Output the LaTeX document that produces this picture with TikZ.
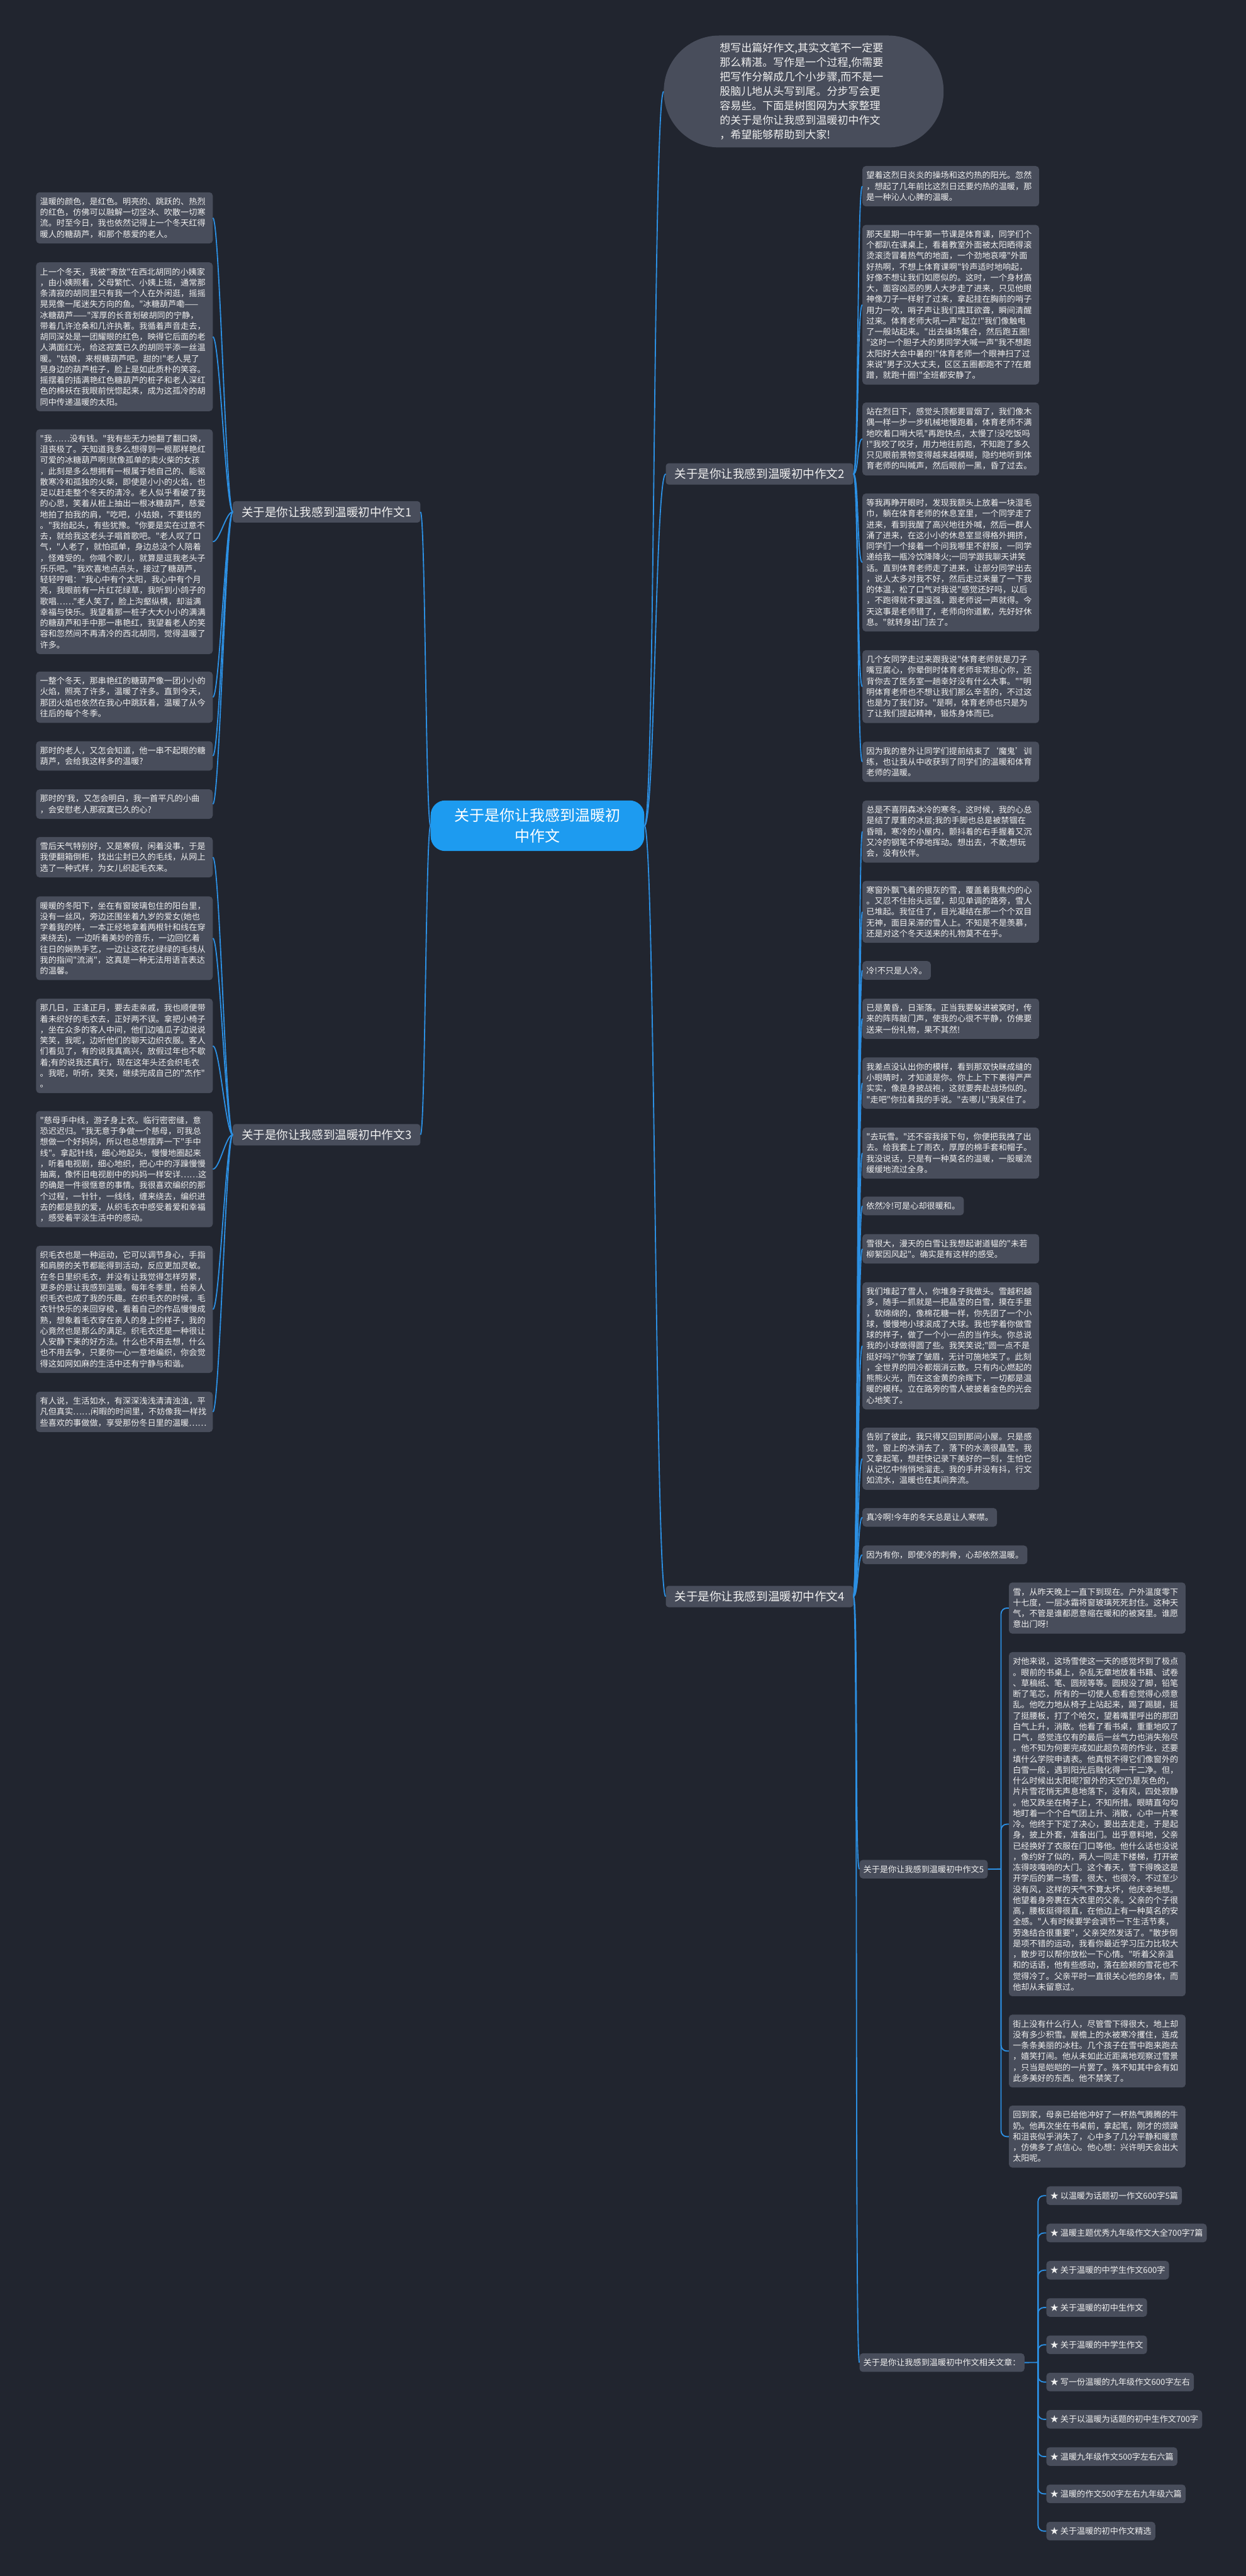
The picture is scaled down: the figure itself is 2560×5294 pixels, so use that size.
\documentclass[tikz,border=0pt]{standalone}
\usepackage{fontspec}
\newfontfamily\cjk{Noto Sans CJK SC}
\definecolor{bgc}{HTML}{21252F}
\definecolor{boxc}{HTML}{484D5B}
\definecolor{txtc}{HTML}{F0F0F0}
\definecolor{lnc}{HTML}{2C8FE2}
\definecolor{ctrc}{HTML}{1D9BF0}
\begin{document}
\begin{tikzpicture}[x=1pt,y=-1pt,
 leaf/.style={rectangle,rounded corners=7pt,fill=boxc,text=txtc,anchor=north west,align=left,inner xsep=8pt,inner ysep=3pt,font=\cjk\fontsize{17pt}{22.3pt}\selectfont},
 wide/.style={text width=347pt},
 nl/.style={minimum height=#1*22.3pt+16pt},
 branch/.style={rectangle,rounded corners=6pt,fill=boxc,text=txtc,inner xsep=18pt,minimum height=44pt,font=\cjk\fontsize{24pt}{28pt}\selectfont},
 conn/.style={draw=lnc,line width=2.4pt},
 elb/.style={draw=lnc,line width=2.4pt,rounded corners=12pt}]
\useasboundingbox (0,0) rectangle (2560,5294);
\fill[bgc] (0,0) rectangle (2560,5294);

% centre and first level
\node[rectangle,rounded corners=30pt,fill=ctrc,text=white,minimum width=439pt,minimum height=104pt,align=center,font=\cjk\fontsize{31pt}{42pt}\selectfont] (ctr) at (1104.5,1697) {关于是你让我感到温暖初\\中作文};
\node[rectangle,rounded corners=114pt,fill=boxc,text=txtc,minimum width=575pt,minimum height=230pt,text width=345pt,align=left,inner sep=0pt,font=\cjk\fontsize{22pt}{29.7pt}\selectfont] (bub) at (1651.5,188) {想写出篇好作文,其实文笔不一定要\\那么精湛。写作是一个过程,你需要\\把写作分解成几个小步骤,而不是一\\股脑儿地从头写到尾。分步写会更\\容易些。下面是树图网为大家整理\\的关于是你让我感到温暖初中作文\\，希望能够帮助到大家!};
\node[branch,anchor=east] (b1) at (864,1052) {关于是你让我感到温暖初中作文1};
\node[branch,anchor=east] (b3) at (864,2332) {关于是你让我感到温暖初中作文3};
\node[branch,anchor=west] (b2) at (1368,974) {关于是你让我感到温暖初中作文2};
\node[branch,anchor=west] (b4) at (1368,3281) {关于是你让我感到温暖初中作文4};

% branch 1
\node[leaf,wide,nl=4] (l1) at (74,395) {温暖的颜色，是红色。明亮的、跳跃的、热烈\\的红色，仿佛可以融解一切坚冰、吹散一切寒\\流。时至今日，我也依然记得上一个冬天红得\\暖人的糖葫芦，和那个慈爱的老人。};
\node[leaf,wide,nl=13] (l2) at (74,539) {上一个冬天，我被"寄放"在西北胡同的小姨家\\，由小姨照看，父母繁忙、小姨上班，通常那\\条清寂的胡同里只有我一个人在外闲逛，摇摇\\晃晃像一尾迷失方向的鱼。"冰糖葫芦嘞——\\冰糖葫芦——"浑厚的长音划破胡同的宁静，\\带着几许沧桑和几许执著。我循着声音走去，\\胡同深处是一团耀眼的红色，映得它后面的老\\人满面红光，给这寂寞已久的胡同平添一丝温\\暖。"姑娘，来根糖葫芦吧。甜的!"老人晃了\\晃身边的葫芦桩子，脸上是如此质朴的笑容。\\摇摆着的插满艳红色糖葫芦的桩子和老人深红\\色的棉袄在我眼前恍惚起来，成为这孤冷的胡\\同中传递温暖的太阳。};
\node[leaf,wide,nl=20] (l3) at (74,882) {"我……没有钱。"我有些无力地翻了翻口袋，\\沮丧极了。天知道我多么想得到一根那样艳红\\可爱的冰糖葫芦啊!就像孤单的卖火柴的女孩\\，此刻是多么想拥有一根属于她自己的、能驱\\散寒冷和孤独的火柴，即使是小小的火焰，也\\足以赶走整个冬天的清冷。老人似乎看破了我\\的心思，笑着从桩上抽出一根冰糖葫芦，慈爱\\地拍了拍我的肩，"吃吧，小姑娘，不要钱的\\。"我抬起头，有些犹豫。"你要是实在过意不\\去，就给我这老头子唱首歌吧。"老人叹了口\\气，"人老了，就怕孤单，身边总没个人陪着\\，怪难受的。你唱个歌儿，就算是逗我老头子\\乐乐吧。"我欢喜地点点头，接过了糖葫芦，\\轻轻哼唱："我心中有个太阳，我心中有个月\\亮，我眼前有一片红花绿草，我听到小鸽子的\\歌唱……"老人笑了，脸上沟壑纵横，却溢满\\幸福与快乐。我望着那一桩子大大小小的满满\\的糖葫芦和手中那一串艳红，我望着老人的笑\\容和忽然间不再清冷的西北胡同，觉得温暖了\\许多。};
\node[leaf,wide,nl=4] (l4) at (74,1380) {一整个冬天，那串艳红的糖葫芦像一团小小的\\火焰，照亮了许多，温暖了许多。直到今天，\\那团火焰也依然在我心中跳跃着，温暖了从今\\往后的每个冬季。};
\node[leaf,wide,nl=2] (l5) at (74,1523) {那时的老人，又怎会知道，他一串不起眼的糖\\葫芦，会给我这样多的温暖?};
\node[leaf,wide,nl=2] (l6) at (74,1622) {那时的'我，又怎会明白，我一首平凡的小曲\\，会安慰老人那寂寞已久的心?};

% branch 3
\node[leaf,wide,nl=3] (l7) at (74,1720) {雪后天气特别好，又是寒假，闲着没事，于是\\我便翻箱倒柜，找出尘封已久的毛线，从网上\\选了一种式样，为女儿织起毛衣来。};
\node[leaf,wide,nl=7] (l8) at (74,1842) {暖暖的冬阳下，坐在有窗玻璃包住的阳台里，\\没有一丝风，旁边还围坐着九岁的爱女(她也\\学着我的样，一本正经地拿着两根针和线在穿\\来绕去)，一边听着美妙的音乐，一边回忆着\\往日的娴熟手艺，一边让这花花绿绿的毛线从\\我的指间"流淌"，这真是一种无法用语言表达\\的温馨。};
\node[leaf,wide,nl=8] (l9) at (74,2052) {那几日，正逢正月，要去走亲戚，我也顺便带\\着未织好的毛衣去，正好两不误。拿把小椅子\\，坐在众多的客人中间，他们边嗑瓜子边说说\\笑笑，我呢，边听他们的聊天边织衣服。客人\\们看见了，有的说我真高兴，放假过年也不歇\\着;有的说我还真行，现在这年头还会织毛衣\\。我呢，听听，笑笑，继续完成自己的"杰作"\\。};
\node[leaf,wide,nl=10] (l10) at (74,2283) {"慈母手中线，游子身上衣。临行密密缝，意\\恐迟迟归。"我无意于争做一个慈母，可我总\\想做一个好妈妈，所以也总想摆弄一下"手中\\线"。拿起针线，细心地起头，慢慢地圈起来\\，听着电视剧，细心地织，把心中的浮躁慢慢\\抽离，像怀旧电视剧中的妈妈一样安详……这\\的确是一件很惬意的事情。我很喜欢编织的那\\个过程，一针针，一线线，缠来绕去，编织进\\去的都是我的爱，从织毛衣中感受着爱和幸福\\，感受着平淡生活中的感动。};
\node[leaf,wide,nl=11] (l11) at (74,2560) {织毛衣也是一种运动，它可以调节身心，手指\\和肩膀的关节都能得到活动，反应更加灵敏。\\在冬日里织毛衣，并没有让我觉得怎样劳累，\\更多的是让我感到温暖。每年冬季里，给亲人\\织毛衣也成了我的乐趣。在织毛衣的时候，毛\\衣针快乐的来回穿梭，看着自己的作品慢慢成\\熟，想象着毛衣穿在亲人的身上的样子，我的\\心竟然也是那么的满足。织毛衣还是一种很让\\人安静下来的好方法。什么也不用去想，什么\\也不用去争，只要你一心一意地编织，你会觉\\得这如网如麻的生活中还有宁静与和谐。};
\node[leaf,wide,nl=3] (l12) at (74,2860) {有人说，生活如水，有深深浅浅清清浊浊，平\\凡但真实……闲暇的时间里，不妨像我一样找\\些喜欢的事做做，享受那份冬日里的温暖……};

% branch 2
\node[leaf,wide,nl=3] (r1) at (1772,341) {望着这烈日炎炎的操场和这灼热的阳光。忽然\\，想起了几年前比这烈日还要灼热的温暖，那\\是一种沁人心脾的温暖。};
\node[leaf,wide,nl=14] (r2) at (1772,462) {那天星期一中午第一节课是体育课，同学们个\\个都趴在课桌上，看着教室外面被太阳晒得滚\\烫滚烫冒着热气的地面，一个劲地哀嚎"外面\\好热啊，不想上体育课啊"铃声适时地响起，\\好像不想让我们如愿似的。这时，一个身材高\\大，面容凶恶的男人大步走了进来，只见他眼\\神像刀子一样射了过来，拿起挂在胸前的哨子\\用力一吹，哨子声让我们震耳欲聋，瞬间清醒\\过来。体育老师大吼一声"起立!"我们像触电\\了一般站起来。"出去操场集合，然后跑五圈!\\"这时一个胆子大的男同学大喊一声"我不想跑\\太阳好大会中暑的!"体育老师一个眼神扫了过\\来说"男子汉大丈夫，区区五圈都跑不了?在磨\\蹭，就跑十圈!"全班都安静了。};
\node[leaf,wide,nl=6] (r3) at (1772,827) {站在烈日下，感觉头顶都要冒烟了，我们像木\\偶一样一步一步机械地慢跑着，体育老师不满\\地吹着口哨大吼"再跑快点，太慢了!没吃饭吗\\!"我咬了咬牙，用力地往前跑，不知跑了多久\\只见眼前景物变得越来越模糊，隐约地听到体\\育老师的叫喊声，然后眼前一黑，昏了过去。};
\node[leaf,wide,nl=12] (r4) at (1772,1014) {等我再睁开眼时，发现我额头上放着一块湿毛\\巾，躺在体育老师的休息室里，一个同学走了\\进来，看到我醒了高兴地往外喊，然后一群人\\涌了进来，在这小小的休息室显得格外拥挤，\\同学们一个接着一个问我哪里不舒服，一同学\\递给我一瓶冷饮降降火;一同学跟我聊天讲笑\\话。直到体育老师走了进来，让部分同学出去\\，说人太多对我不好，然后走过来量了一下我\\的体温，松了口气对我说"感觉还好吗，以后\\，不跑得就不要逞强，跟老师说一声就得。今\\天这事是老师错了，老师向你道歉，先好好休\\息。"就转身出门去了。};
\node[leaf,wide,nl=6] (r5) at (1772,1336) {几个女同学走过来跟我说"体育老师就是刀子\\嘴豆腐心，你晕倒时体育老师非常担心你，还\\背你去了医务室一趟幸好没有什么大事。""明\\明体育老师也不想让我们那么辛苦的，不过这\\也是为了我们好。"是啊，体育老师也只是为\\了让我们提起精神，锻炼身体而已。};
\node[leaf,wide,nl=3] (r6) at (1772,1524) {因为我的意外让同学们提前结束了‘魔鬼’训\\练，也让我从中收获到了同学们的温暖和体育\\老师的温暖。};

% branch 4
\node[leaf,wide,nl=5] (r7) at (1772,1645) {总是不喜阴森冰冷的寒冬。这时候，我的心总\\是结了厚重的冰层;我的手脚也总是被禁锢在\\昏暗，寒冷的小屋内，颤抖着的右手握着又沉\\又冷的钢笔不停地挥动。想出去，不敢;想玩\\会，没有伙伴。};
\node[leaf,wide,nl=5] (r8) at (1772,1810) {寒窗外飘飞着的银灰的雪，覆盖着我焦灼的心\\。又忍不住抬头远望，却见单调的路旁，雪人\\已堆起。我怔住了，目光凝结在那一个个双目\\无神，面目呆滞的雪人上。不知是不是羡慕，\\还是对这个冬天送来的礼物莫不在乎。};
\node[leaf,nl=1] (r9) at (1772,1975) {冷!不只是人冷。};
\node[leaf,wide,nl=3] (r10) at (1772,2052) {已是黄昏，日渐落。正当我要躲进被窝时，传\\来的阵阵敲门声，使我的心很不平静，仿佛要\\送来一份礼物，果不其然!};
\node[leaf,wide,nl=4] (r11) at (1772,2173) {我差点没认出你的模样，看到那双快眯成缝的\\小眼睛时，才知道是你。你上上下下裹得严严\\实实，像是身披战袍，这就要奔赴战场似的。\\"走吧"你拉着我的手说。"去哪儿"我呆住了。};
\node[leaf,wide,nl=4] (r12) at (1772,2317) {"去玩雪。"还不容我接下句，你便把我拽了出\\去。给我套上了雨衣，厚厚的棉手套和帽子。\\我没说话，只是有一种莫名的温暖，一股暖流\\缓缓地流过全身。};
\node[leaf,nl=1] (r13) at (1772,2459) {依然冷!可是心却很暖和。};
\node[leaf,wide,nl=2] (r14) at (1772,2536) {雪很大，漫天的白雪让我想起谢道韫的"未若\\柳絮因风起"。确实是有这样的感受。};
\node[leaf,wide,nl=11] (r15) at (1772,2635) {我们堆起了雪人，你堆身子我做头。雪越积越\\多，随手一抓就是一把晶莹的白雪，摸在手里\\，软绵绵的，像棉花糖一样，你先团了一个小\\球，慢慢地小球滚成了大球。我也学着你做雪\\球的样子，做了一个小一点的当作头。你总说\\我的小球做得圆了些。我笑笑说;"圆一点不是\\挺好吗?"你皱了皱眉，无计可施地笑了。此刻\\，全世界的阴冷都烟消云散。只有内心燃起的\\熊熊火光，而在这金黄的余晖下，一切都是温\\暖的模样。立在路旁的雪人被披着金色的光会\\心地笑了。};
\node[leaf,wide,nl=5] (r16) at (1772,2934) {告别了彼此，我只得又回到那间小屋。只是感\\觉，窗上的冰消去了，落下的水滴很晶莹。我\\又拿起笔，想赶快记录下美好的一刻，生怕它\\从记忆中悄悄地溜走。我的手并没有抖，行文\\如流水，温暖也在其间奔流。};
\node[leaf,nl=1] (r17) at (1772,3099) {真冷啊!今年的冬天总是让人寒噤。};
\node[leaf,nl=1] (r18) at (1772,3176) {因为有你，即使冷的刺骨，心却依然温暖。};
\node[leaf,nl=1] (z5) at (1766,3822) {关于是你让我感到温暖初中作文5};
\node[leaf,nl=1] (zr) at (1766,4836) {关于是你让我感到温暖初中作文相关文章：};

% essay 5
\node[leaf,wide,nl=4] (r19) at (2073,3252) {雪，从昨天晚上一直下到现在。户外温度零下\\十七度，一层冰霜将窗玻璃死死封住。这种天\\气，不管是谁都愿意缩在暖和的被窝里。谁愿\\意出门呀!};
\node[leaf,wide,nl=31] (r20) at (2073,3395) {对他来说，这场雪使这一天的感觉坏到了极点\\。眼前的书桌上，杂乱无章地放着书籍、试卷\\、草稿纸、笔、圆规等等。圆规没了脚，铅笔\\断了笔芯，所有的一切使人愈看愈觉得心烦意\\乱。他吃力地从椅子上站起来，踢了踢腿，挺\\了挺腰板，打了个哈欠，望着嘴里呼出的那团\\白气上升，消散。他看了看书桌，重重地叹了\\口气，感觉连仅有的最后一丝气力也消失殆尽\\。他不知为何要完成如此超负荷的作业，还要\\填什么学院申请表。他真恨不得它们像窗外的\\白雪一般，遇到阳光后融化得一干二净。但，\\什么时候出太阳呢?窗外的天空仍是灰色的，\\片片雪花悄无声息地落下，没有风，四处寂静\\。他又跌坐在椅子上，不知所措。眼睛直勾勾\\地盯着一个个白气团上升、消散，心中一片寒\\冷。他终于下定了决心，要出去走走，于是起\\身，披上外套，准备出门。出乎意料地，父亲\\已经换好了衣服在门口等他。他什么话也没说\\，像约好了似的，两人一同走下楼梯，打开被\\冻得吱嘎响的大门。这个春天，雪下得晚这是\\开学后的第一场雪，很大，也很冷。不过至少\\没有风，这样的天气不算太坏，他庆幸地想。\\他望着身旁裹在大衣里的父亲。父亲的个子很\\高，腰板挺得很直，在他边上有一种莫名的安\\全感。"人有时候要学会调节一下生活节奏，\\劳逸结合很重要"，父亲突然发话了。"散步倒\\是项不错的运动，我看你最近学习压力比较大\\，散步可以帮你放松一下心情。"听着父亲温\\和的话语，他有些感动，落在脸颊的雪花也不\\觉得冷了。父亲平时一直很关心他的身体，而\\他却从未留意过。};
\node[leaf,wide,nl=6] (r21) at (2073,4140) {街上没有什么行人，尽管雪下得很大，地上却\\没有多少积雪。屋檐上的水被寒冷攫住，连成\\一条条美丽的冰柱。几个孩子在雪中跑来跑去\\，嬉笑打闹。他从未如此近距离地观察过雪景\\，只当是皑皑的一片罢了。殊不知其中会有如\\此多美好的东西。他不禁笑了。};
\node[leaf,wide,nl=5] (r22) at (2073,4327) {回到家，母亲已给他冲好了一杯热气腾腾的牛\\奶。他再次坐在书桌前，拿起笔，刚才的烦躁\\和沮丧似乎消失了，心中多了几分平静和暖意\\，仿佛多了点信心。他心想：兴许明天会出大\\太阳呢。};

% related articles
\node[leaf,nl=1] (a1) at (2150,4493) {★ 以温暖为话题初一作文600字5篇};
\node[leaf,nl=1] (a2) at (2150,4569.6) {★ 温暖主题优秀九年级作文大全700字7篇};
\node[leaf,nl=1] (a3) at (2150,4646.2) {★ 关于温暖的中学生作文600字};
\node[leaf,nl=1] (a4) at (2150,4722.8) {★ 关于温暖的初中生作文};
\node[leaf,nl=1] (a5) at (2150,4799.4) {★ 关于温暖的中学生作文};
\node[leaf,nl=1] (a6) at (2150,4876) {★ 写一份温暖的九年级作文600字左右};
\node[leaf,nl=1] (a7) at (2150,4952.6) {★ 关于以温暖为话题的初中生作文700字};
\node[leaf,nl=1] (a8) at (2150,5029.2) {★ 温暖九年级作文500字左右六篇};
\node[leaf,nl=1] (a9) at (2150,5105.8) {★ 温暖的作文500字左右九年级六篇};
\node[leaf,nl=1] (a10) at (2150,5182.4) {★ 关于温暖的初中作文精选};

% connectors
\foreach \c in {b1,b3} \draw[conn] (ctr.west) .. controls +(-10,0) and +(10,0) .. (\c.east);
\foreach \c in {b2,b4,bub} \draw[conn] (ctr.east) .. controls +(22,0) and +(-22,0) .. (\c.west);
\foreach \c in {l1,l2,l3,l4,l5,l6} \draw[conn] (b1.west) .. controls +(-14,0) and +(14,0) .. (\c.east);
\foreach \c in {l7,l8,l9,l10,l11,l12} \draw[conn] (b3.west) .. controls +(-14,0) and +(14,0) .. (\c.east);
\foreach \c in {r1,r2,r3,r4,r5,r6} \draw[conn] (b2.east) .. controls +(11,0) and +(-11,0) .. (\c.west);
\foreach \c in {r7,r8,r9,r10,r11,r12,r13,r14,r15,r16,r17,r18,z5,zr} \draw[conn] (b4.east) .. controls +(10,0) and +(-10,0) .. (\c.west);
\coordinate (t5) at (2057,3841);
\draw[conn] (z5.east) -- (t5);
\foreach \c in {r19,r20,r21,r22} \draw[elb] (t5) |- (\c.west);
\coordinate (tr) at (2133,4855);
\draw[conn] (zr.east) -- (tr);
\foreach \c in {a1,a2,a3,a4,a5,a6,a7,a8,a9,a10} \draw[elb] (tr) |- (\c.west);
\end{tikzpicture}
\end{document}
